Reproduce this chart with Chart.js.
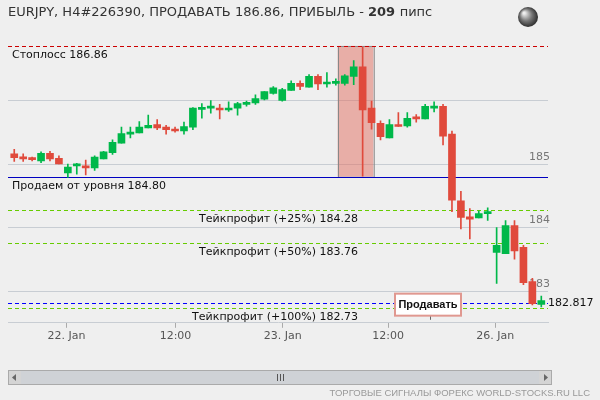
<!DOCTYPE html>
<html><head><meta charset="utf-8">
<script src="https://cdn.jsdelivr.net/npm/chart.js@4"></script>
<style>html,body{margin:0;padding:0;background:#efefef}canvas{display:block}</style>
</head><body>
<canvas id="c" width="600" height="400"></canvas>
<script>
const opens  = [185.16,185.11,185.09,185.05,185.17,185.09,184.86,184.97,184.97,184.94,185.08,185.18,185.33,185.47,185.49,185.57,185.62,185.58,185.55,185.52,185.58,185.86,185.88,185.88,185.85,185.88,185.94,185.96,186.02,186.11,186.00,186.16,186.27,186.21,186.38,186.26,186.27,186.27,186.38,186.53,185.88,185.64,185.41,185.62,185.60,185.72,185.71,185.88,185.91,185.47,184.42,184.17,184.15,184.22,183.61,183.59,184.03,183.69,183.15,182.79];
const highs  = [185.23,185.16,185.11,185.19,185.20,185.13,185.00,185.01,185.06,185.13,185.20,185.38,185.58,185.58,185.67,185.77,185.70,185.61,185.58,185.66,185.89,185.95,186.00,185.94,185.98,185.97,185.99,186.09,186.14,186.22,186.19,186.31,186.31,186.41,186.41,186.44,186.34,186.41,186.63,186.84,185.99,185.68,185.70,185.81,185.81,185.78,185.94,185.98,185.94,185.52,184.57,184.30,184.26,184.31,184.00,184.11,184.11,183.72,183.20,182.92];
const lows   = [185.04,185.04,185.05,185.02,185.05,185.00,184.79,184.84,184.83,184.90,185.08,185.15,185.33,185.41,185.49,185.57,185.54,185.47,185.50,185.47,185.54,185.72,185.80,185.71,185.83,185.77,185.91,185.94,186.01,186.10,185.99,186.16,186.17,186.21,186.17,186.21,186.24,186.24,186.25,184.81,185.55,185.38,185.41,185.59,185.58,185.66,185.71,185.82,185.30,184.25,183.98,183.82,184.15,184.11,183.12,183.59,183.50,183.10,182.78,182.75];
const closes = [185.10,185.08,185.07,185.17,185.08,185.00,184.95,185.00,184.94,185.11,185.19,185.34,185.48,185.50,185.58,185.61,185.57,185.54,185.52,185.59,185.88,185.89,185.89,185.85,185.88,185.95,185.97,186.03,186.14,186.20,186.17,186.27,186.22,186.38,186.26,186.28,186.28,186.39,186.53,185.85,185.65,185.43,185.62,185.59,185.72,185.71,185.91,185.89,185.44,184.43,184.16,184.13,184.22,184.23,183.72,184.03,183.63,183.13,182.80,182.85];
const tickPositions = [5.85,18.05,30.05,41.85,53.85];
const tickLabels = ["22. Jan","12:00","23. Jan","12:00","26. Jan"];
const yTicks = [183,184,185,186];
const yTickLabels = ["183","184","185",""];
const stopLoss = 186.86, entry = 184.80, currentPrice = 182.817;
const takeProfits = [184.28,183.76,182.73];
const takeLabels = ["Тейкпрофит (+25%) 184.28","Тейкпрофит (+50%) 183.76","Тейкпрофит (+100%) 182.73"];
const signalRange = [36.2,40.2];

const UP='#00b84a', DN='#e04a3c';
const idx = opens.map((_,i)=>i);
const cols = idx.map(i=>closes[i]>=opens[i]?UP:DN);
const F='"DejaVu Sans", Verdana, sans-serif';
const F2='"Liberation Sans", Arial, sans-serif';

const overlay = {
  id:'overlay',
  beforeDatasetsDraw(ch){
    const c=ch.ctx,x=ch.scales.x,y=ch.scales.y,a=ch.chartArea;
    c.save();
    const x0=x.getPixelForValue(signalRange[0]),x1=x.getPixelForValue(signalRange[1]);
    const y0=y.getPixelForValue(stopLoss),y1=y.getPixelForValue(entry);
    c.fillStyle='rgba(225,110,95,0.5)';c.fillRect(x0,y0,x1-x0,y1-y0);
    c.strokeStyle='#888';c.lineWidth=1;c.strokeRect(Math.round(x0)+0.5,Math.round(y0)+0.5,x1-x0,y1-y0);
    const hl=(v,col,dash)=>{const p=Math.round(y.getPixelForValue(v))+0.5;c.setLineDash(dash);c.strokeStyle=col;c.beginPath();c.moveTo(a.left,p);c.lineTo(a.right,p);c.stroke();};
    hl(stopLoss,'#cc0000',[4,3]);
    hl(entry,'#0000c0',[]);
    takeProfits.forEach(v=>hl(v,'#66cc00',[4,3]));
    hl(currentPrice,'#0000ff',[4,3]);
    c.setLineDash([]);
    c.restore();
  },
  afterDraw(ch){
    const c=ch.ctx,x=ch.scales.x,y=ch.scales.y,a=ch.chartArea;
    c.save();
    c.fillStyle='#111';c.font='11px '+F;c.textBaseline='middle';c.textAlign='left';
    c.fillText('Стоплосс 186.86',12,y.getPixelForValue(stopLoss)+9);
    c.fillText('Продаем от уровня 184.80',12,y.getPixelForValue(entry)+9);
    c.textAlign='right';
    takeProfits.forEach((v,i)=>c.fillText(takeLabels[i],358,y.getPixelForValue(v)+9));
    c.textAlign='left';
    c.fillText('182.817',548,y.getPixelForValue(currentPrice));
    const bx=430,by=y.getPixelForValue(currentPrice)+1;
    c.strokeStyle='#666';c.beginPath();c.moveTo(bx+0.5,by+12);c.lineTo(bx+0.5,a.bottom-3);c.stroke();
    c.fillStyle='#fff';c.fillRect(395,by-10,66,22);
    c.strokeStyle='#e09890';c.lineWidth=2;c.strokeRect(395,by-10,66,22);
    c.fillStyle='#111';c.font='bold 11px '+F2;c.textAlign='center';c.fillText('Продавать',428,by+1);
    c.textAlign='left';c.font='13px '+F;c.fillStyle='#333';
    let t='EURJPY, H4#226390, ПРОДАВАТЬ 186.86, ПРИБЫЛЬ - ';c.fillText(t,8,13);
    let w=c.measureText(t).width;c.font='bold 13px '+F;c.fillText('209',8+w,13);
    w+=c.measureText('209 ').width;c.font='13px '+F;c.fillText('пипс',8+w,13);
    const g=c.createRadialGradient(524,13,1,528,17,11);g.addColorStop(0,'#eee');g.addColorStop(0.5,'#777');g.addColorStop(1,'#222');
    c.fillStyle=g;c.beginPath();c.arc(528,17,10,0,Math.PI*2);c.fill();
    c.fillStyle='#e2e2e2';c.fillRect(8,370,544,15);
    c.fillStyle='#d4d4d4';c.fillRect(8,370,13,15);c.fillRect(539,370,13,15);
    c.fillStyle='#666';c.beginPath();c.moveTo(12,377.5);c.lineTo(16,374);c.lineTo(16,381);c.fill();
    c.beginPath();c.moveTo(548,377.5);c.lineTo(544,374);c.lineTo(544,381);c.fill();
    c.fillStyle='#cfd2d6';c.fillRect(21,371,518,13);
    c.strokeStyle='#aaa';c.lineWidth=1;c.strokeRect(8.5,370.5,543,14);
    c.strokeStyle='#555';[-3,0,3].forEach(d=>{c.beginPath();c.moveTo(280.5+d,374);c.lineTo(280.5+d,381);c.stroke();});
    c.fillStyle='#999';c.font='9.5px '+F2;c.textAlign='right';c.fillText('ТОРГОВЫЕ СИГНАЛЫ ФОРЕКС WORLD-STOCKS.RU LLC',590,393);
    c.restore();
  }
};

new Chart(document.getElementById('c'),{
  type:'bar',
  data:{datasets:[
    {data:idx.map(i=>({x:i,y:[lows[i],highs[i]]})),backgroundColor:cols,barThickness:1,grouped:false,order:2},
    {data:idx.map(i=>({x:i,y:[opens[i],closes[i]]})),backgroundColor:cols,barThickness:7,grouped:false,minBarLength:2,order:1}
  ]},
  options:{
    responsive:false,animation:false,
    layout:{padding:{left:8,right:48,top:30,bottom:55}},
    plugins:{legend:{display:false},tooltip:{enabled:false}},
    scales:{
      x:{type:'linear',min:-0.7,max:59.75,offset:false,
        afterBuildTicks(s){s.ticks=tickPositions.map(v=>({value:v}));},
        ticks:{callback:(v,i)=>tickLabels[i],color:'#555',font:{size:11,family:F},maxRotation:0,autoSkip:false,padding:2},
        grid:{display:true,offset:false,drawOnChartArea:false,tickLength:5,color:'#aaa'},
        border:{color:'#c8cdd3'}},
      y:{position:'right',min:182.5,max:187.11,
        afterBuildTicks(s){s.ticks=yTicks.map(v=>({value:v}));},
        ticks:{mirror:true,labelOffset:-7,padding:2,color:'#777',font:{size:11,family:F},callback:(v,i)=>yTickLabels[i]},
        grid:{color:'#c8cdd3',drawTicks:false},border:{display:false}}
    }
  },
  plugins:[overlay]
});
</script>
</body></html>
